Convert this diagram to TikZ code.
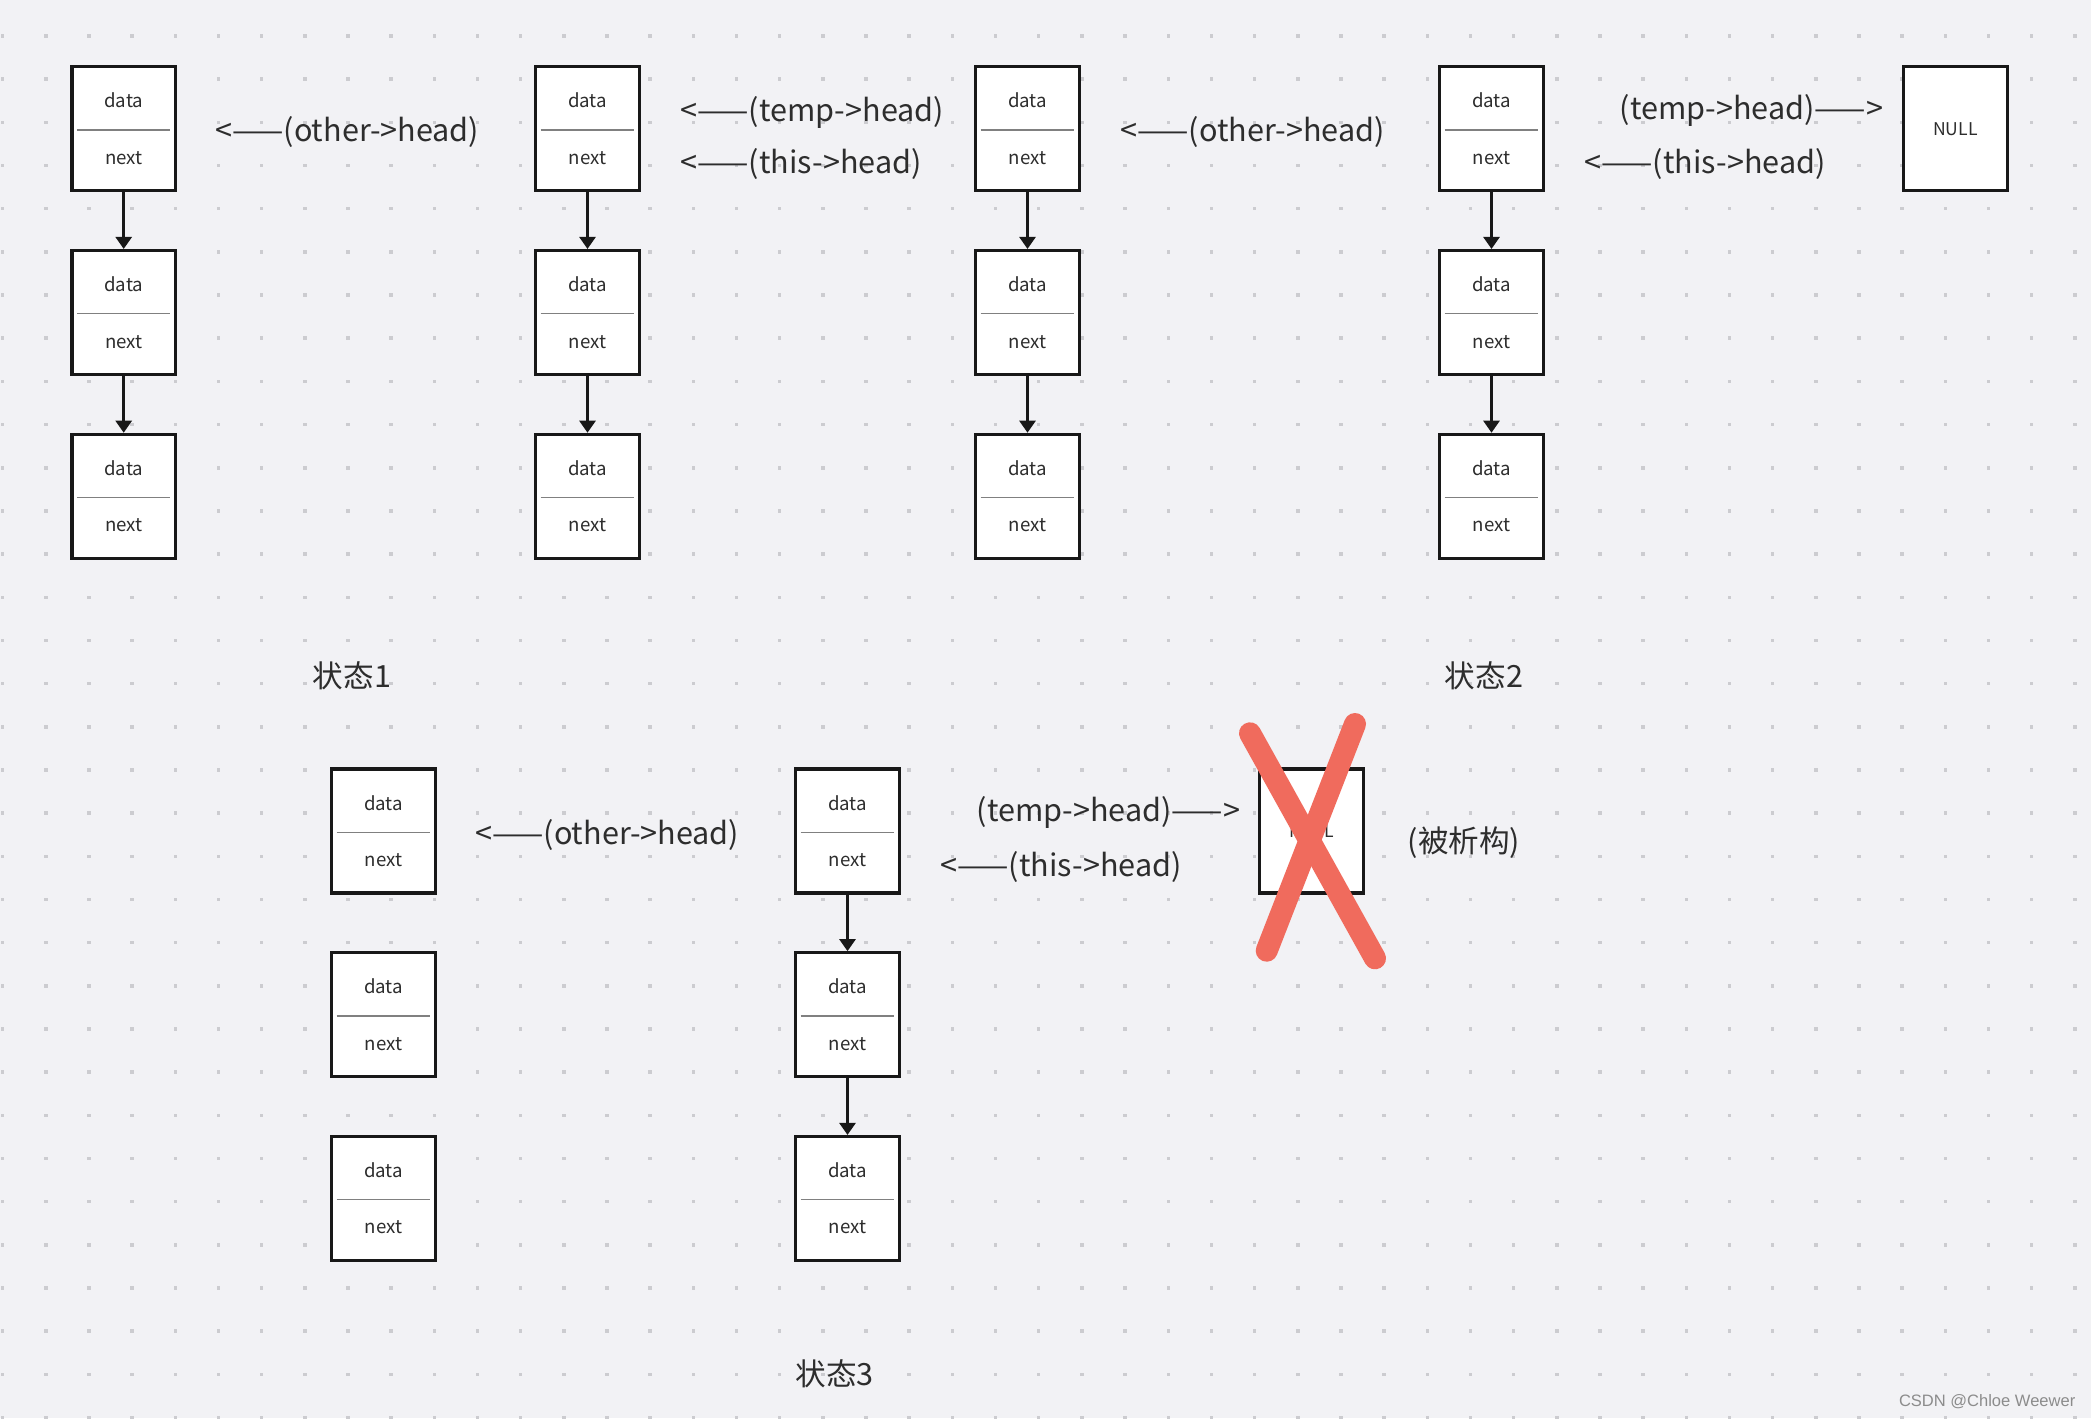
\documentclass[tikz,border=0pt]{standalone}
\usepackage{fontspec}
\setmainfont{Noto Sans CJK SC}
\newfontfamily\wmfont{Liberation Sans}
\usetikzlibrary{positioning,arrows.meta}
\definecolor{bg}{RGB}{242,242,245}
\definecolor{dotc}{RGB}{204,204,208}
\definecolor{ink}{RGB}{24,24,24}
\definecolor{txt}{RGB}{45,45,45}
\definecolor{xred}{RGB}{240,107,93}
\tikzset{
  cell/.style={rectangle, draw=ink, line width=0.9pt, fill=white, minimum width=1.035cm, minimum height=1.24cm,
    inner sep=0pt, align=center, text=txt, font=\fontsize{5.3}{16}\selectfont, node distance=0.565cm,
    path picture={\draw[black!50, line width=0.3pt]
      ([xshift=0.05cm,yshift=-0.012cm]path picture bounding box.west) -- ([xshift=-0.05cm,yshift=-0.012cm]path picture bounding box.east);}},
  nullbox/.style={rectangle, draw=ink, line width=0.9pt, fill=white, minimum width=1.035cm, minimum height=1.24cm,
    inner sep=0pt, text=txt, font=\fontsize{5}{6}\selectfont},
  connect/.style={-{Triangle[width=0.16cm,length=0.12cm]}, line width=0.75pt, draw=ink},
  ptr/.style={text=txt, font=\fontsize{8.7}{10}\selectfont, inner sep=0pt},
  strike/.style={draw=xred, line width=0.22cm, line cap=round}
}

\begin{document}
\begin{tikzpicture}[x=0.01cm, y=-0.01cm]
  % Page and dotted grid
  \fill[bg] (0,0) rectangle (2091,1418);
  \useasboundingbox (0,0) rectangle (2091,1418);
  \foreach \i in {0,...,48}
    \foreach \j in {0,...,32}
      \fill[dotc] ({0.9+43.17*\i},{34.3+43.17*\j}) rectangle ++(3.5,3.5);

  % State 1 and 2
  \foreach \c/\x in {a/123.7, b/587.5, c/1027.5, d/1491.5} {
    \node[cell] (\c^{0}) at (\x,128.8) {data\\next};
    \foreach \r [evaluate = \r as \q using (int(\r - 1))] in {1,2} {
      \node[cell] (\c^{\r}) [below=of \c^{\q}] {data\\next};
      \path (\c^{\q}) edge [connect] (\c^{\r});
    }
  }
  \node[nullbox] (n^{0}) at (1955.5,128.8) {NULL};

  \node[ptr, anchor=west] (p1) at (214.7,132) {<——(other->head)};
  \node[ptr, anchor=west] (p2) at (680,112) {<——(temp->head)};
  \node[ptr, anchor=west] (p3) at (680,164) {<——(this->head)};
  \node[ptr, anchor=west] (p4) at (1120,132) {<——(other->head)};
  \node[ptr, anchor=west] (p5) at (1619,110.5) {(temp->head)——>};
  \node[ptr, anchor=west] (p6) at (1584,164) {<——(this->head)};

  \node[ptr] (s1) at (352,675.5) {状态1};
  \node[ptr] (s2) at (1484,675.5) {状态2};

  % State 3
  \node[cell] (e^{0}) at (383.5,831) {data\\next};
  \foreach \r [evaluate = \r as \q using (int(\r - 1))] in {1,2}
    \node[cell] (e^{\r}) [below=of e^{\q}] {data\\next};

  \node[cell] (f^{0}) at (847.5,831) {data\\next};
  \foreach \r [evaluate = \r as \q using (int(\r - 1))] in {1,2} {
    \node[cell] (f^{\r}) [below=of f^{\q}] {data\\next};
    \path (f^{\q}) edge [connect] (f^{\r});
  }
  \node[nullbox] (n^{1}) at (1311.5,831) {NULL};

  \node[ptr, anchor=west] (p7) at (474.7,834.5) {<——(other->head)};
  \node[ptr, anchor=west] (p8) at (976,812) {(temp->head)——>};
  \node[ptr, anchor=west] (p9) at (940,866.5) {<——(this->head)};
  \node[ptr, anchor=west] (gone) at (1407,842.5) {(被析构)};

  % Cross over the destroyed NULL
  \coordinate (x1) at (1250,733.3);
  \coordinate (x2) at (1375,958.3);
  \coordinate (x3) at (1355,724);
  \coordinate (x4) at (1266.7,950.7);
  \draw[strike] (x1) -- (x2);
  \draw[strike] (x3) -- (x4);

  \node[ptr] (s3) at (834.8,1374) {状态3};

  \node[anchor=east, inner sep=0pt, text=black!45, font=\wmfont\fontsize{4.7}{5}\selectfont] (wm) at (2076,1401.5) {CSDN @Chloe Weewer};
\end{tikzpicture}
\end{document}
